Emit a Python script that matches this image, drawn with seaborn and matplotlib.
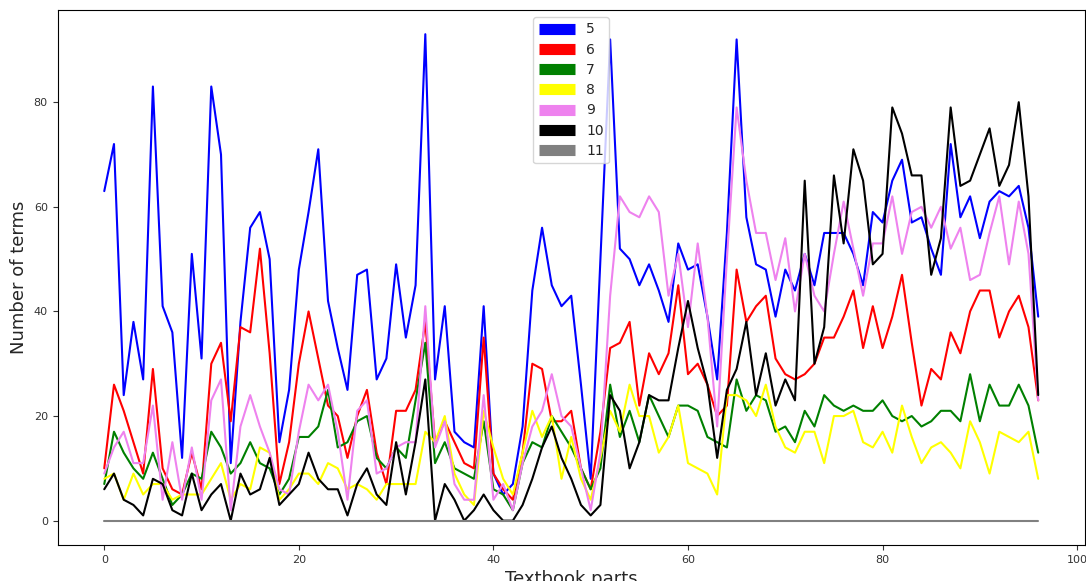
import matplotlib
matplotlib.use("Agg")
import matplotlib.pyplot as plt
import numpy as np
import pandas as pd
import seaborn as sns

# number of terms per textbook part, one list per term length
len5 = [63, 72, 24, 38, 27, 83, 41, 36, 12, 51,
        31, 83, 70, 11, 38, 56, 59, 50, 15, 25,
        48, 59, 71, 42, 33, 25, 47, 48, 27, 31,
        49, 35, 45, 93, 27, 41, 17, 15, 14, 41,
        9, 5, 7, 18, 44, 56, 45, 41, 43, 26,
        8, 50, 92, 52, 50, 45, 49, 44, 38, 53,
        48, 49, 39, 27, 55, 92, 58, 49, 48, 39,
        48, 44, 51, 45, 55, 55, 55, 51, 45, 59,
        57, 65, 69, 57, 58, 52, 47, 72, 58, 62,
        54, 61, 63, 62, 64, 56, 39]
len6 = [10, 26, 21, 15, 9, 29, 10, 6, 5, 13,
        6, 30, 34, 19, 37, 36, 52, 32, 7, 15,
        30, 40, 31, 22, 20, 12, 20, 25, 13, 7,
        21, 21, 25, 38, 15, 19, 15, 11, 10, 35,
        9, 6, 4, 13, 30, 29, 19, 19, 21, 10,
        6, 17, 33, 34, 38, 22, 32, 28, 32, 45,
        28, 30, 26, 20, 22, 48, 38, 41, 43, 31,
        28, 27, 28, 30, 35, 35, 39, 44, 33, 41,
        33, 39, 47, 34, 22, 29, 27, 36, 32, 40,
        44, 44, 35, 40, 43, 37, 23]
len7 = [7, 17, 13, 10, 8, 13, 8, 3, 5, 9,
        8, 17, 14, 9, 11, 15, 11, 10, 5, 8,
        16, 16, 18, 25, 14, 15, 19, 20, 12, 10,
        14, 12, 23, 34, 11, 15, 10, 9, 8, 19,
        6, 5, 2, 11, 15, 14, 20, 17, 14, 10,
        6, 10, 26, 16, 21, 15, 24, 20, 16, 22,
        22, 21, 16, 15, 14, 27, 21, 24, 23, 17,
        18, 15, 21, 18, 24, 22, 21, 22, 21, 21,
        23, 20, 19, 20, 18, 19, 21, 21, 19, 28,
        19, 26, 22, 22, 26, 22, 13]
len8 = [8, 9, 4, 9, 5, 7, 7, 4, 5, 5,
        5, 8, 11, 4, 7, 6, 14, 13, 4, 6,
        9, 9, 7, 11, 10, 6, 7, 6, 4, 7,
        7, 7, 7, 17, 15, 20, 9, 5, 3, 21,
        14, 8, 5, 13, 21, 16, 20, 8, 16, 8,
        4, 12, 21, 17, 26, 20, 20, 13, 16, 22,
        11, 10, 9, 5, 24, 24, 23, 20, 26, 18,
        14, 13, 17, 17, 11, 20, 20, 21, 15, 14,
        17, 13, 22, 16, 11, 14, 15, 13, 10, 19,
        15, 9, 17, 16, 15, 17, 8]
len9 = [9, 14, 17, 11, 11, 22, 4, 15, 4, 14,
        4, 23, 27, 2, 18, 24, 18, 13, 6, 5,
        17, 26, 23, 26, 17, 4, 21, 23, 9, 10,
        14, 15, 15, 41, 14, 19, 7, 4, 4, 24,
        4, 7, 2, 11, 18, 21, 28, 20, 18, 10,
        2, 13, 43, 62, 59, 58, 62, 59, 43, 51,
        37, 53, 39, 18, 50, 79, 65, 55, 55, 46,
        54, 40, 51, 43, 40, 51, 61, 52, 43, 53,
        53, 62, 51, 59, 60, 56, 60, 52, 56, 46,
        47, 55, 62, 49, 61, 51, 23]
len10 = [6, 9, 4, 3, 1, 8, 7, 2, 1, 9,
         2, 5, 7, 0, 9, 5, 6, 12, 3, 5,
         7, 13, 8, 6, 6, 1, 7, 10, 5, 3,
         15, 5, 15, 27, 0, 7, 4, 0, 2, 5,
         2, 0, 0, 3, 8, 14, 18, 12, 8, 3,
         1, 3, 24, 21, 10, 15, 24, 23, 23, 33,
         42, 33, 26, 12, 25, 29, 38, 24, 32, 22,
         27, 23, 65, 30, 37, 66, 53, 71, 65, 49,
         51, 79, 74, 66, 66, 47, 54, 79, 64, 65,
         70, 75, 64, 68, 80, 62, 24]
len11 = [0] * 97

lengths = ['5', '6', '7', '8', '9', '10', '11']
colors = ['blue', 'red', 'green', 'yellow', 'violet', 'black', 'grey']
series = [len5, len6, len7, len8, len9, len10, len11]

frames = []
for name, vals in zip(lengths, series):
    frames.append(pd.DataFrame({'part': np.arange(len(vals)), 'terms': vals, 'length': name}))
df = pd.concat(frames, ignore_index=True)

sns.set_style("ticks")
fig = plt.figure(figsize=(10.86, 5.81), dpi=100)
ax = fig.add_axes([0.053, 0.062, 0.946, 0.921])

sns.lineplot(data=df, x='part', y='terms', hue='length', hue_order=lengths,
             palette=dict(zip(lengths, colors)), linewidth=1.5, ax=ax)

ax.set_xlabel('Textbook parts', fontsize=13)
ax.set_ylabel('Number of terms', fontsize=13)
ax.tick_params(labelsize=8, colors='#333333')
for s in ax.spines.values():
    s.set_color('black')
    s.set_linewidth(0.8)

handles, labels = ax.get_legend_handles_labels()
leg = ax.legend(handles, labels, loc='upper center', fontsize=10,
                handlelength=2.6, labelspacing=0.45, frameon=True)
for line in leg.get_lines():
    line.set_linewidth(8)
    line.set_solid_capstyle('butt')

fig.savefig('out.png', dpi=100)
